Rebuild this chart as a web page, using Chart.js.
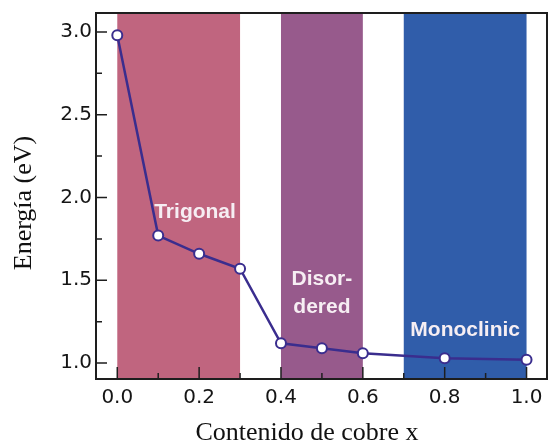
<!DOCTYPE html>
<html>
<head>
<meta charset="utf-8">
<script src="https://cdn.jsdelivr.net/npm/chart.js@4.4.1/dist/chart.umd.min.js"></script>
<style>
  html, body { margin: 0; padding: 0; background: #fff; }
  #wrap { width: 548px; height: 446px; }
</style>
</head>
<body>
<div id="wrap"><canvas id="c"></canvas></div>
<script>
// copper content x and band gap energy (eV)
const copperX = [0.0, 0.1, 0.2, 0.3, 0.4, 0.5, 0.6, 0.8, 1.0]
const energy = [2.98, 1.77, 1.66, 1.57, 1.12, 1.09, 1.06, 1.03, 1.02]

// phase regions along x
const phaseNames = ['Trigonal', 'Disor-\ndered', 'Monoclinic']
const phaseStart = [0.0, 0.4, 0.7]
const phaseEnd = [0.3, 0.6, 1.0]

const xTicks = [0.0, 0.1, 0.2, 0.3, 0.4, 0.5, 0.6, 0.7, 0.8, 0.9, 1.0]
const yTicks = [1.0, 1.25, 1.5, 1.75, 2.0, 2.25, 2.5, 2.75, 3.0]

const phaseColors = ['rgb(192,101,127)', 'rgb(151,90,140)', 'rgb(48,93,170)']
// where to put the phase names (data units)
const labelPos = [{x: 0.19, y: 1.91}, {x: 0.5, y: 1.42}, {x: 0.85, y: 1.2}]

const axisColor = '#1e1e1e'
const lineColor = '#3a2d8e'

const phasePlugin = {
    id: 'phases',
    beforeDatasetsDraw(chart){
        const {ctx, chartArea, scales} = chart
        ctx.save()
        for(let i = 0; i < phaseNames.length; i++){
            const x0 = scales.x.getPixelForValue(phaseStart[i])
            const x1 = scales.x.getPixelForValue(phaseEnd[i])
            ctx.fillStyle = phaseColors[i]
            ctx.fillRect(x0, chartArea.top, x1 - x0, chartArea.bottom - chartArea.top)
        }
        // inward tick marks
        ctx.strokeStyle = axisColor
        ctx.lineWidth = 1.5
        ctx.beginPath()
        xTicks.forEach((v, i) => {
            const px = scales.x.getPixelForValue(v)
            const len = i % 2 === 0 ? 12 : 6
            ctx.moveTo(px, chartArea.bottom)
            ctx.lineTo(px, chartArea.bottom - len)
        })
        yTicks.forEach((v, i) => {
            const py = scales.y.getPixelForValue(v)
            const len = i % 2 === 0 ? 11 : 6
            ctx.moveTo(chartArea.left, py)
            ctx.lineTo(chartArea.left + len, py)
        })
        ctx.stroke()
        ctx.restore()
    },
    afterDatasetsDraw(chart){
        const {ctx, chartArea, scales} = chart
        ctx.save()
        ctx.fillStyle = '#f6eef3'
        ctx.font = 'bold 21px "Liberation Sans", Arial, sans-serif'
        ctx.textAlign = 'center'
        ctx.textBaseline = 'middle'
        phaseNames.forEach((name, i) => {
            const lines = name.split('\n')
            const cx = scales.x.getPixelForValue(labelPos[i].x)
            const cy = scales.y.getPixelForValue(labelPos[i].y)
            lines.forEach((ln, j) => {
                ctx.fillText(ln, cx, cy + (j - (lines.length - 1) / 2) * 28)
            })
        })
        // frame
        ctx.strokeStyle = axisColor
        ctx.lineWidth = 2
        ctx.strokeRect(chartArea.left, chartArea.top, chartArea.right - chartArea.left, chartArea.bottom - chartArea.top)
        // axis titles
        ctx.fillStyle = '#111'
        ctx.font = '26px "Liberation Serif", "Times New Roman", serif'
        ctx.fillText('Contenido de cobre x', 307, 433)
        ctx.translate(24, 203)
        ctx.rotate(-Math.PI / 2)
        ctx.fillText('Energía (eV)', 0, 0)
        ctx.restore()
    }
}

new Chart(document.getElementById('c'), {
    type: 'scatter',
    data: {
        datasets: [{
            data: copperX.map((x, i) => ({x: x, y: energy[i]})),
            showLine: true,
            borderColor: lineColor,
            borderWidth: 2.5,
            pointRadius: 5,
            pointBorderWidth: 2,
            pointBackgroundColor: '#ffffff',
            pointBorderColor: lineColor
        }]
    },
    options: {
        responsive: true,
        maintainAspectRatio: false,
        animation: false,
        layout: {autoPadding: false, padding: {top: 13, right: 1, bottom: 0, left: 0}},
        plugins: {legend: {display: false}, tooltip: {enabled: false}},
        scales: {
            x: {
                type: 'linear',
                min: -0.052,
                max: 1.05,
                afterBuildTicks: (scale) => { scale.ticks = xTicks.map(v => ({value: v})) },
                afterFit: (scale) => {
                    scale.height = 67
                    scale.paddingLeft = 0
                    scale.paddingRight = 0
                },
                grid: {display: false, drawTicks: false},
                border: {display: false},
                ticks: {
                    padding: 7,
                    color: '#151515',
                    font: {family: 'DejaVu Sans', size: 20},
                    maxRotation: 0,
                    autoSkip: false,
                    callback: (v, i) => i % 2 === 0 ? v.toFixed(1) : ''
                }
            },
            y: {
                min: 0.904,
                max: 3.114,
                afterBuildTicks: (scale) => { scale.ticks = yTicks.map(v => ({value: v})) },
                afterFit: (scale) => {
                    scale.width = 96
                    scale.paddingTop = 0
                    scale.paddingBottom = 0
                },
                grid: {display: false, drawTicks: false},
                border: {display: false},
                ticks: {
                    padding: 4,
                    color: '#151515',
                    font: {family: 'DejaVu Sans', size: 20},
                    autoSkip: false,
                    callback: (v, i) => i % 2 === 0 ? v.toFixed(1) : ''
                }
            }
        }
    },
    plugins: [phasePlugin]
})
</script>
</body>
</html>
